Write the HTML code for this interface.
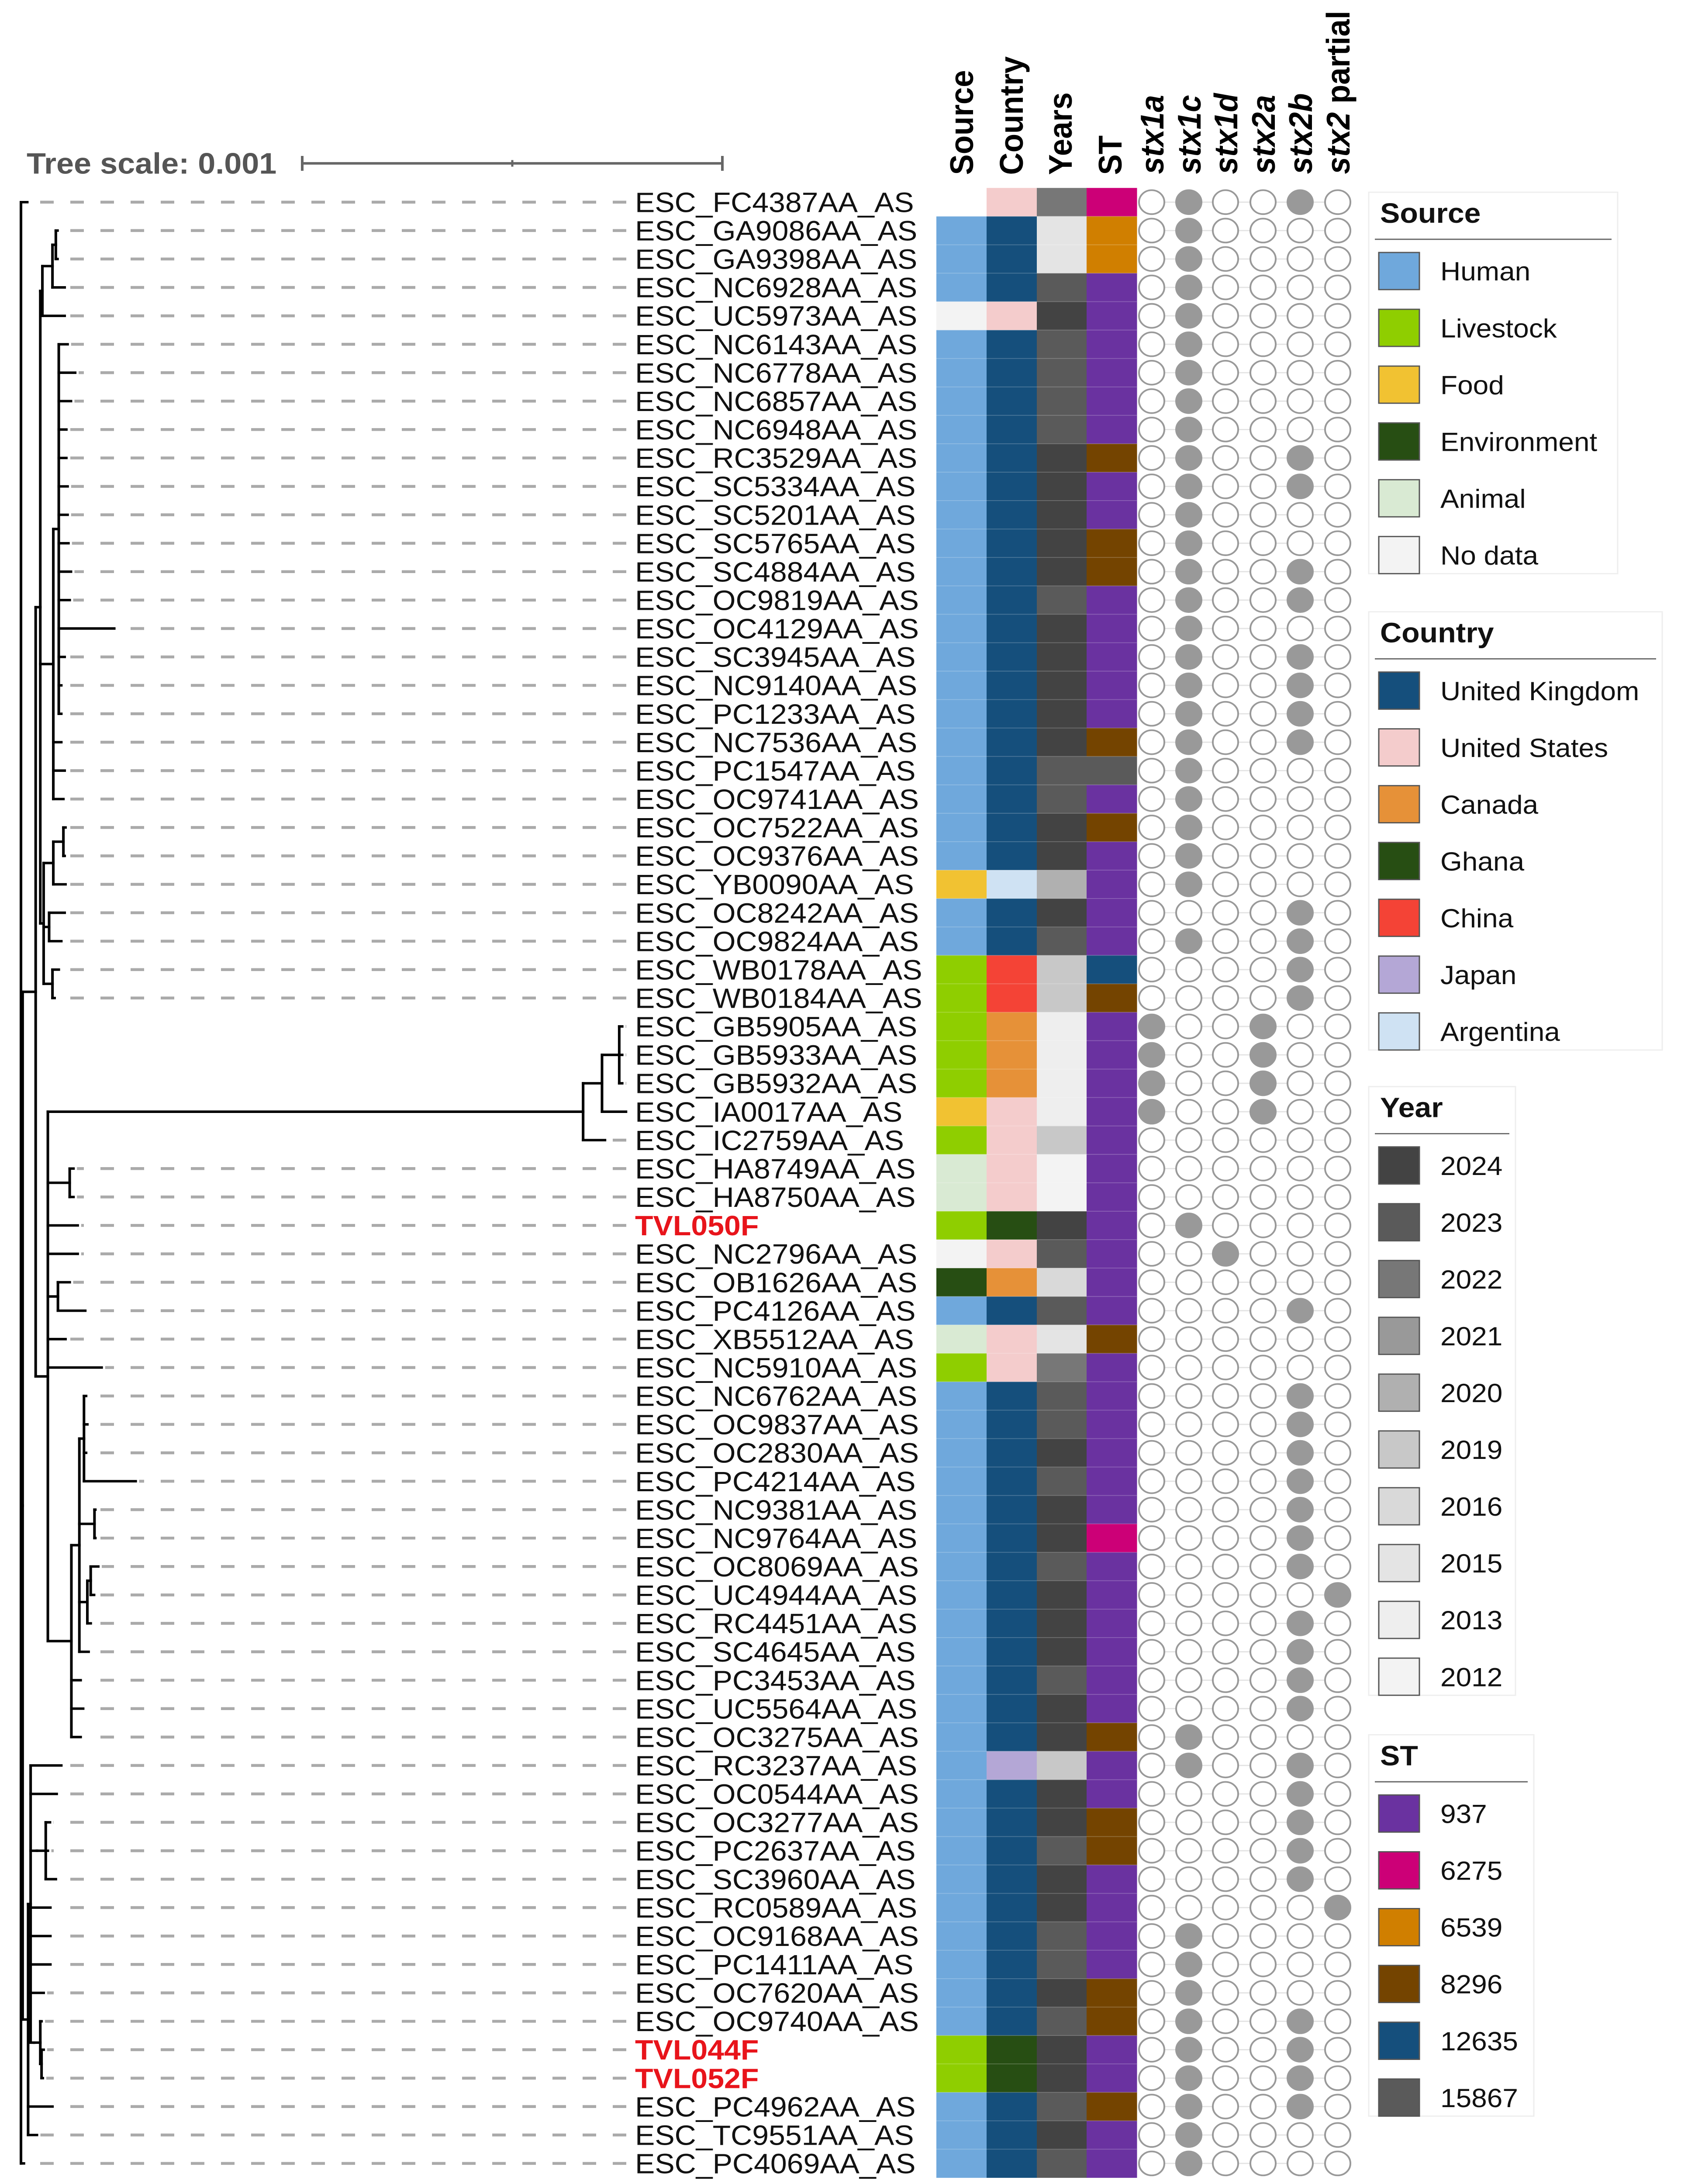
<!DOCTYPE html>
<html><head><meta charset="utf-8"><style>
html,body{margin:0;padding:0;background:#fff;width:100%;height:100%;overflow:hidden;}
svg{display:block;width:100vw;height:100vh;font-family:"Liberation Sans",Arial,sans-serif;}
</style></head><body>
<svg id="fig" xmlns="http://www.w3.org/2000/svg" viewBox="0 0 3849 5294" preserveAspectRatio="none">
<g id="tree"></g>
<g id="leaders"></g>
<g id="labels"></g>
<g id="cells"></g>
<g id="dots"></g>
<g id="heads"></g>
<g id="legends"></g>
<g>
  <text x="61" y="421" font-size="72" font-weight="bold" fill="#555">Tree scale: 0.001</text>
  <line x1="692" y1="396" x2="1654" y2="396" stroke="#666" stroke-width="6"/>
  <line x1="692" y1="378" x2="692" y2="414" stroke="#666" stroke-width="6"/>
  <line x1="1173" y1="388" x2="1173" y2="404" stroke="#666" stroke-width="5"/>
  <line x1="1654" y1="378" x2="1654" y2="414" stroke="#666" stroke-width="6"/>
</g>
</svg>
<script>
const labels = ["ESC_FC4387AA_AS","ESC_GA9086AA_AS","ESC_GA9398AA_AS","ESC_NC6928AA_AS","ESC_UC5973AA_AS","ESC_NC6143AA_AS","ESC_NC6778AA_AS","ESC_NC6857AA_AS","ESC_NC6948AA_AS","ESC_RC3529AA_AS","ESC_SC5334AA_AS","ESC_SC5201AA_AS","ESC_SC5765AA_AS","ESC_SC4884AA_AS","ESC_OC9819AA_AS","ESC_OC4129AA_AS","ESC_SC3945AA_AS","ESC_NC9140AA_AS","ESC_PC1233AA_AS","ESC_NC7536AA_AS","ESC_PC1547AA_AS","ESC_OC9741AA_AS","ESC_OC7522AA_AS","ESC_OC9376AA_AS","ESC_YB0090AA_AS","ESC_OC8242AA_AS","ESC_OC9824AA_AS","ESC_WB0178AA_AS","ESC_WB0184AA_AS","ESC_GB5905AA_AS","ESC_GB5933AA_AS","ESC_GB5932AA_AS","ESC_IA0017AA_AS","ESC_IC2759AA_AS","ESC_HA8749AA_AS","ESC_HA8750AA_AS","TVL050F","ESC_NC2796AA_AS","ESC_OB1626AA_AS","ESC_PC4126AA_AS","ESC_XB5512AA_AS","ESC_NC5910AA_AS","ESC_NC6762AA_AS","ESC_OC9837AA_AS","ESC_OC2830AA_AS","ESC_PC4214AA_AS","ESC_NC9381AA_AS","ESC_NC9764AA_AS","ESC_OC8069AA_AS","ESC_UC4944AA_AS","ESC_RC4451AA_AS","ESC_SC4645AA_AS","ESC_PC3453AA_AS","ESC_UC5564AA_AS","ESC_OC3275AA_AS","ESC_RC3237AA_AS","ESC_OC0544AA_AS","ESC_OC3277AA_AS","ESC_PC2637AA_AS","ESC_SC3960AA_AS","ESC_RC0589AA_AS","ESC_OC9168AA_AS","ESC_PC1411AA_AS","ESC_OC7620AA_AS","ESC_OC9740AA_AS","TVL044F","TVL052F","ESC_PC4962AA_AS","ESC_TC9551AA_AS","ESC_PC4069AA_AS"];
const source = ["-","H","H","H","N","H","H","H","H","H","H","H","H","H","H","H","H","H","H","H","H","H","H","H","F","H","H","L","L","L","L","L","F","L","A","A","L","N","E","H","A","L","H","H","H","H","H","H","H","H","H","H","H","H","H","H","H","H","H","H","H","H","H","H","H","L","L","H","H","H"];
const country = ["US","UK","UK","UK","US","UK","UK","UK","UK","UK","UK","UK","UK","UK","UK","UK","UK","UK","UK","UK","UK","UK","UK","UK","AR","UK","UK","CN","CN","CA","CA","CA","US","US","US","US","GH","US","CA","UK","US","US","UK","UK","UK","UK","UK","UK","UK","UK","UK","UK","UK","UK","UK","JP","UK","UK","UK","UK","UK","UK","UK","UK","UK","GH","GH","UK","UK","UK"];
const years = [2022,2015,2015,2023,2024,2023,2023,2023,2023,2024,2024,2024,2024,2024,2023,2024,2024,2024,2024,2024,2023,2023,2024,2024,2020,2024,2023,2019,2019,2013,2013,2013,2013,2019,2012,2012,2024,2023,2016,2023,2015,2022,2023,2023,2024,2023,2024,2024,2023,2024,2024,2024,2023,2024,2024,2019,2024,2024,2023,2024,2024,2023,2023,2024,2023,2024,2024,2023,2024,2023];
const st = [6275,6539,6539,937,937,937,937,937,937,8296,937,937,8296,8296,937,937,937,937,937,8296,15867,937,8296,937,937,937,937,12635,8296,937,937,937,937,937,937,937,937,937,937,937,8296,937,937,937,937,937,937,6275,937,937,937,937,937,937,8296,937,937,8296,8296,937,937,937,937,8296,8296,937,937,8296,937,937];
const genes = ["stx1a","stx1c","stx1d","stx2a","stx2b","stx2 partial"];
const stx1a = [29,30,31,32];
const stx1c = [0,1,2,3,4,5,6,7,8,9,10,11,12,13,14,15,16,17,18,19,20,21,22,23,24,26,36,54,55,61,62,63,64,65,66,67,68,69];
const stx1d = [37];
const stx2a = [29,30,31,32];
const stx2b = [0,9,10,13,14,16,17,18,19,25,26,27,28,39,42,43,44,45,46,47,48,50,51,52,53,55,56,57,58,59,64,65,66,67];
const stx2partial = [49,60];
const sourceNames = ["Human","Livestock","Food","Environment","Animal","No data"];
const sourceKeys = ["H","L","F","E","A","N"];
const sourceCols = ["#6fa8dc","#8fce00","#f1c232","#274e13","#d9ead3","#f3f3f3"];
const countryNames = ["United Kingdom","United States","Canada","Ghana","China","Japan","Argentina"];
const countryKeys = ["UK","US","CA","GH","CN","JP","AR"];
const countryCols = ["#154f7c","#f4cccc","#e69138","#274e13","#f44336","#b4a7d6","#cfe2f3"];
const yearVals = [2024,2023,2022,2021,2020,2019,2016,2015,2013,2012];
const yearCols = ["#434343","#5a5a5a","#777777","#999999","#b0b0b0","#c8c8c8","#d9d9d9","#e4e4e4","#eeeeee","#f3f3f3"];
const stVals = [937,6275,6539,8296,12635,15867];
const stCols = ["#6a32a0","#cc0077","#d07f00","#744400","#154f7c","#5a5a5a"];

function N(d,...c){return {d:d,c:c};}
function L(d,i){return {d:d,i:i};}
const Bupper = N(4.6, N(5.1, N(7.5, N(8.3, L(8.7,1), L(8.7,2)), L(10.4,3)), L(10.4,4)),
  N(7.7, N(9.0, L(11.1,5), L(12.9,6), L(11.9,7), L(10.8,8), L(10.8,9), L(11.1,10), L(11.1,11), L(11.3,12), L(11.9,13), L(11.6,14), L(22.2,15), L(10.4,16), L(9.6,17), L(9.6,18)), L(9.6,19), L(10.4,20), L(10.1,21)),
  N(5.4, N(7.7, N(10.1, L(10.6,22), L(10.4,23)), L(10.6,24)), N(6.7, L(10.4,25), L(9.6,26)), N(7.5, L(9.0,27), L(8.0,28))));
const Bmid = N(6.4, N(133.8, N(138.3, N(142.4, L(143.1,29), L(143.1,30), L(143.1,31)), L(144.0,32)), L(139.0,33)),
  N(11.6, L(12.5,34), L(12.5,35)), L(13.5,36), L(13.5,37), N(8.8, L(11.6,38), L(15.3,39)), L(10.6,40), L(19.2,41),
  N(12.0, N(13.9, N(15.0, L(15.5,42), L(15.8,43), L(15.5,44), L(27.3,45)), N(17.5, L(17.7,46), L(17.7,47)), N(15.8, N(16.6, L(18.4,48), L(17.4,49)), L(16.6,50)), L(16.1,51)), L(14.2,52), L(14.8,53), L(14.2,54)));
const Blow = N(1.7, N(2.3, L(9.6,55), L(8.5,56), N(3.8, N(5.9, L(6.9,57), L(6.4,58), L(8.3,59))), L(7.0,60), L(7.0,61), L(7.0,62), L(5.4,63), N(3.1, N(4.6, L(4.9,64), N(4.9, L(5.4,65), L(5.2,66))))), L(7.5,67), L(3.8,68));
const tree = N(0, L(1.5,0), N(0.4, N(3.5, Bupper, Bmid), Blow), L(0.7,69));

const NS="http://www.w3.org/2000/svg";
const ROW0=490, PITCH=68.9;
const rowY = i => ROW0 + PITCH*i;
const treeX = d => 48 + d*9.62;
function mk(tag, attrs, parent){const e=document.createElementNS(NS,tag);for(const k in attrs)e.setAttribute(k,attrs[k]);parent.appendChild(e);return e;}

const gT=document.getElementById('tree');
function layout(n){ if(n.c){n.c.forEach(layout); n.y=(n.c[0].y+n.c[n.c.length-1].y)/2;} else n.y=rowY(n.i); }
layout(tree);
function draw(n){
  if(!n.c) return;
  const x=treeX(n.d);
  const v=mk('line',{x1:x,y1:n.c[0].y,x2:x,y2:n.c[n.c.length-1].y,stroke:'#000','stroke-width':6,'stroke-linecap':'square'},gT);
  
  
  n.c.forEach(ch=>{
    const h=mk('line',{x1:x,y1:ch.y,x2:treeX(ch.d),y2:ch.y,stroke:'#000','stroke-width':6,'stroke-linecap':'square'},gT);
    
    
    draw(ch);
  });
}
draw(tree);

const gL=document.getElementById('leaders'), gLab=document.getElementById('labels');
const leafDepth={};
(function col(n){ if(n.c) n.c.forEach(col); else leafDepth[n.i]=n.d; })(tree);
labels.forEach((lab,i)=>{
  const y=rowY(i), xs=treeX(leafDepth[i])+8;
  if(xs<1435){
    const off=((xs-92)%69+69)%69;
    const l=mk('line',{x1:xs,y1:y,x2:1436,y2:y,stroke:'#aaa','stroke-width':7,'stroke-dasharray':'31 38','stroke-dashoffset':off},gL);
    
    
  }
  const red=lab.startsWith('TVL');
  const t=mk('text',{x:1454,y:y+24,'font-size':68,fill:red?'#e8141b':'#111','font-weight':red?'bold':'normal'},gLab);
  t.textContent=lab;
  
  
});

const gC=document.getElementById('cells');
const colX=[2144,2259,2374,2488], CW=115;
function cell(ci,i,fill,name){
  const r=mk('rect',{x:colX[ci],y:rowY(i)-PITCH/2,width:CW+0.5,height:PITCH+0.5,fill:fill},gC);
  
  
}
labels.forEach((_,i)=>{
  const si=sourceKeys.indexOf(source[i]);
  if(si>=0) cell(0,i,sourceCols[si],'source-cell');
  cell(1,i,countryCols[countryKeys.indexOf(country[i])],'country-cell');
  cell(2,i,yearCols[yearVals.indexOf(years[i])],'year-cell');
  cell(3,i,stCols[stVals.indexOf(st[i])],'st-cell');
});
for(let i=1;i<labels.length;i++){
  const y=rowY(i)-PITCH/2;
  const ln=mk('line',{x1:2144,y1:y,x2:2603,y2:y,stroke:'rgba(255,255,255,0.22)','stroke-width':2},gC);
  
  
}

const gD=document.getElementById('dots');
const dotX=[2637,2722,2806,2892,2977,3063];
const present=[stx1a,stx1c,stx1d,stx2a,stx2b,stx2partial];
labels.forEach((_,i)=>{
  const y=rowY(i);
  const ln=mk('line',{x1:2606,y1:y,x2:3092,y2:y,stroke:'#e3e3e3','stroke-width':3},gD);
  
  
  dotX.forEach((x,g)=>{
    const on=present[g].includes(i);
    const c=mk('circle',{cx:x,cy:y,r:29,fill:on?'#999':'#fff',stroke:'#999','stroke-width':4},gD);
    
    
  });
});

const gH=document.getElementById('heads');
const headX=[2201,2315,2427,2541];
["Source","Country","Years","ST"].forEach((h,k)=>{
  const t=mk('text',{transform:`translate(${headX[k]+27},424) rotate(-90)`,'font-size':75,'font-weight':'bold',fill:'#000'},gH);
  t.textContent=h;
  
  
});
genes.forEach((g,k)=>{
  const t=mk('text',{transform:`translate(${dotX[k]+27},422) rotate(-90)`,'font-size':75,'font-weight':'bold',fill:'#000'},gH);
  
  
  const parts=g.split(' ');
  const s1=mk('tspan',{'font-style':'italic'},t); s1.textContent=parts[0];
  if(parts[1]){const s2=mk('tspan',{},t); s2.textContent=' '+parts[1];}
});

const gLg=document.getElementById('legends');
function legend(title,names,cols,top,right){
  const g=mk('g',{},gLg);
  
  
  const h=141+137.7*(names.length-1)+95;
  const box=mk('rect',{x:3134,y:top,width:right-3134,height:h,fill:'#fff',stroke:'#eee','stroke-width':3},g);
  
  
  const tc=top+50;
  const tt=mk('text',{x:3160,y:tc+24,'font-size':68,'font-weight':'bold',fill:'#111'},g);
  tt.textContent=title;
  
  
  const ul=mk('line',{x1:3148,y1:tc+64,x2:right-14,y2:tc+64,stroke:'#666','stroke-width':3},g);
  
  
  names.forEach((n,k)=>{
    const cy=tc+141+137.7*k;
    const sw=mk('rect',{x:3157,y:cy-45,width:93,height:90,fill:cols[k],stroke:'#555','stroke-width':3},g);
    
    
    const lt=mk('text',{x:3298,y:cy+23,'font-size':64,fill:'#111'},g);
    lt.textContent=n;
    
    
  });
}
legend('Source',sourceNames,sourceCols,466,3704);
legend('Country',countryNames,countryCols,1483,3806);
legend('Year',yearVals.map(String),yearCols,2634,3470);
legend('ST',stVals.map(String),stCols,4205,3512);
</script>
</body></html>
